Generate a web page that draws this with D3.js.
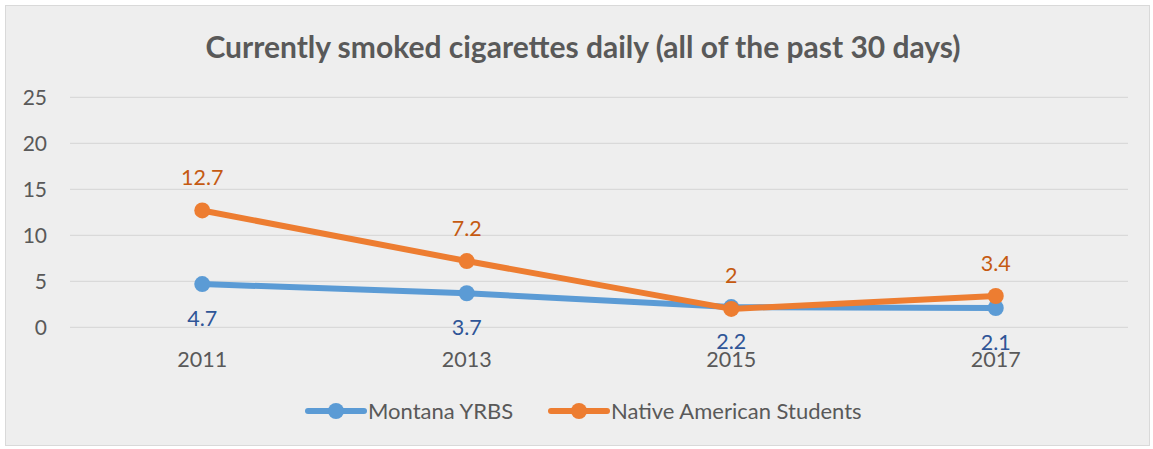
<!DOCTYPE html>
<html>
<head>
<meta charset="utf-8">
<script src="https://cdn.jsdelivr.net/npm/d3@7"></script>
<style>
  body { margin: 0; background: #fff; }
  text { font-family: Lato, "Open Sans", sans-serif; }
</style>
</head>
<body>
<svg id="chart"></svg>
<script>
const years = ["2011", "2013", "2015", "2017"];
const montana = [4.7, 3.7, 2.2, 2.1];
const native = [12.7, 7.2, 2, 3.4];
const yTicks = [0, 5, 10, 15, 20, 25];

const W = 1153, H = 449;
const svg = d3.select("#chart").attr("width", W).attr("height", H);

// chart area background + border
svg.append("rect")
  .attr("x", 5.5).attr("y", 5.5)
  .attr("width", 1144).attr("height", 440)
  .attr("fill", "#eeeeee")
  .attr("stroke", "#d9d9d9");

svg.append("text")
  .attr("x", 583).attr("y", 58)
  .attr("text-anchor", "middle")
  .attr("font-size", 30).attr("font-weight", "bold")
  .attr("fill", "#595959")
  .text("Currently smoked cigarettes daily (all of the past 30 days)");

const x = d3.scaleBand().domain(years).range([70, 1128]);
const y = d3.scaleLinear().domain([0, 25]).range([327.3, 97.3]);
const cx = d => x(d) + x.bandwidth() / 2;

// gridlines
svg.append("g")
  .selectAll("line")
  .data(yTicks)
  .join("line")
  .attr("x1", 70).attr("x2", 1128)
  .attr("y1", d => y(d)).attr("y2", d => y(d))
  .attr("stroke", "#d9d9d9").attr("stroke-width", 1.3);

// y labels
svg.append("g")
  .selectAll("text")
  .data(yTicks)
  .join("text")
  .attr("x", 47).attr("y", d => y(d))
  .attr("dy", "0.35em")
  .attr("text-anchor", "end")
  .attr("font-size", 21).attr("fill", "#595959")
  .text(d => d);

// x labels
svg.append("g")
  .selectAll("text")
  .data(years)
  .join("text")
  .attr("x", cx).attr("y", 367)
  .attr("text-anchor", "middle")
  .attr("font-size", 21.5).attr("fill", "#595959")
  .text(d => d);

const series = [
  { name: "Montana YRBS", values: montana, color: "#5b9bd5", label: "#2f5597", dy: 34 },
  { name: "Native American Students", values: native, color: "#ed7d31", label: "#c55a11", dy: -33 }
];

const line = d3.line().x((d, i) => cx(years[i])).y(d => y(d));

series.forEach(s => {
  const g = svg.append("g");
  g.append("path")
    .attr("d", line(s.values))
    .attr("fill", "none")
    .attr("stroke", s.color)
    .attr("stroke-width", 6)
    .attr("stroke-linejoin", "round");
  g.selectAll("circle")
    .data(s.values)
    .join("circle")
    .attr("cx", (d, i) => cx(years[i]))
    .attr("cy", d => y(d))
    .attr("r", 8)
    .attr("fill", s.color);
});

series.forEach(s => {
  svg.append("g")
    .selectAll("text")
    .data(s.values)
    .join("text")
    .attr("x", (d, i) => cx(years[i]))
    .attr("y", d => y(d) + s.dy)
    .attr("dy", "0.35em")
    .attr("text-anchor", "middle")
    .attr("font-size", 21.5)
    .attr("fill", s.label)
    .text(d => d);
});

// legend
const legendX = [308, 551];
series.forEach((s, i) => {
  const g = svg.append("g").attr("transform", `translate(${legendX[i]},411)`);
  g.append("line")
    .attr("x1", 0).attr("x2", 56)
    .attr("stroke", s.color).attr("stroke-width", 6)
    .attr("stroke-linecap", "round");
  g.append("circle").attr("cx", 28).attr("r", 8).attr("fill", s.color);
  g.append("text")
    .attr("x", 60).attr("dy", "0.35em")
    .attr("font-size", 22).attr("fill", "#595959")
    .text(s.name);
});
</script>
</body>
</html>
